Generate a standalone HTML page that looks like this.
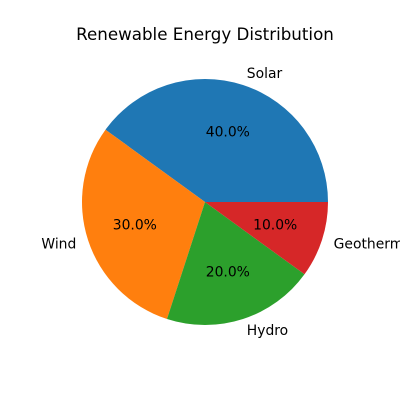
<!DOCTYPE html>
<html><head><meta charset="utf-8"><style>
body{margin:0;background:#fff}
svg{display:block;font-family:"DejaVu Sans","Liberation Sans",sans-serif}
</style></head><body>
<svg id="chart" width="400" height="400">
<text x="205" y="40" text-anchor="middle" font-size="16.7">Renewable Energy Distribution</text>
<g id="slices"></g>
</svg>
<script>
const categories = ["Solar","Wind","Hydro","Geothermal"];
const values = [40,30,20,10];
const colors = ["#1f77b4","#ff7f0e","#2ca02c","#d62728"];
const cx=205, cy=202, r=123;
const ns="http://www.w3.org/2000/svg";
const g=document.getElementById('slices');
const total=values.reduce((a,b)=>a+b,0);
let start=0;
function pt(a,rr){return [cx+rr*Math.cos(a*Math.PI/180), cy-rr*Math.sin(a*Math.PI/180)];}
values.forEach((v,i)=>{
  const sweep=v/total*360, end=start+sweep;
  const p1=pt(start,r), p2=pt(end,r);
  const path=document.createElementNS(ns,'path');
  path.setAttribute('d',`M${cx},${cy} L${p1[0]},${p1[1]} A${r},${r} 0 ${sweep>180?1:0} 0 ${p2[0]},${p2[1]} Z`);
  path.setAttribute('fill',colors[i]);
  
  
  g.appendChild(path);
  const mid=start+sweep/2;
  const lp=pt(mid,r*1.1);
  const lab=document.createElementNS(ns,'text');
  lab.setAttribute('x',lp[0]);lab.setAttribute('y',lp[1]+4.5);
  lab.setAttribute('font-size','13.9');
  lab.setAttribute('text-anchor',Math.cos(mid*Math.PI/180)>=0?'start':'end');
  lab.textContent=categories[i];
  
  
  g.appendChild(lab);
  const pp=pt(mid,r*0.6);
  const pc=document.createElementNS(ns,'text');
  pc.setAttribute('x',pp[0]);pc.setAttribute('y',pp[1]+4.5);
  pc.setAttribute('font-size','13.9');pc.setAttribute('text-anchor','middle');
  pc.textContent=(v/total*100).toFixed(1)+'%';
  
  
  g.appendChild(pc);
  start=end;
});
</script>
</body></html>
